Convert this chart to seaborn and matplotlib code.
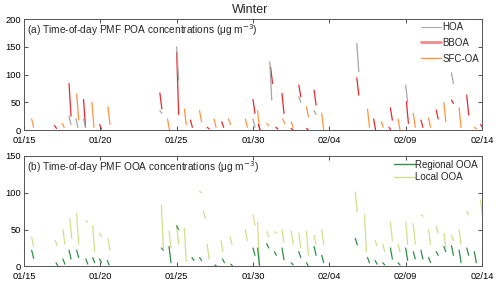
import pandas as pd
import numpy as np
import seaborn as sns
import matplotlib.pyplot as plt
from matplotlib.lines import Line2D

# x axis: days since 01/15 (winter campaign)
tick_days = [0, 5, 10, 15, 20, 25, 30]
tick_labels = ["01/15", "01/20", "01/25", "01/30", "02/04", "02/09", "02/14"]

# each segment: start day, value at start, value at end
hoa_day = [2.95, 3.4, 3.9, 8.9, 10.0, 15.0, 16.1, 18.0, 19.0, 21.8, 25.0, 28.0]
hoa_v0 = [25, 20, 20, 35, 150, 20, 123, 60, 35, 156, 81, 103]
hoa_v1 = [10, 5, 5, 30, 90, 5, 54, 50, 28, 105, 50, 84]

bboa_day = [2.0, 2.95, 3.9, 4.95, 8.9, 10.0, 10.9, 12.0, 12.95, 15.0, 15.35, 16.15,
            16.5, 16.9, 17.5, 18.0, 18.5, 19.0, 21.8, 22.9, 23.9, 24.0, 25.05,
            26.0, 27.0, 28.0, 29.0, 29.9]
bboa_v0 = [8, 84, 55, 10, 67, 140, 18, 5, 15, 55, 10, 114, 5, 66, 3, 81, 3, 72,
           94, 20, 5, 40, 51, 18, 36, 54, 63, 10]
bboa_v1 = [3, 25, 5, 2, 38, 28, 5, 2, 5, 30, 0, 84, 2, 30, 0, 60, 0, 45, 63, 0,
           0, 18, 12, 5, 20, 48, 27, 5]

sfc_day = [0.5, 2.5, 3.45, 4.45, 5.5, 9.4, 10.5, 11.5, 12.45, 13.4, 14.5, 15.3,
           15.9, 16.95, 17.5, 18.5, 19.5, 22.5, 23.4, 24.5, 25.5, 26.5, 27.5,
           28.5, 29.5]
sfc_v0 = [20, 12, 65, 50, 42, 20, 38, 35, 20, 20, 20, 35, 12, 20, 15, 42, 30,
          38, 15, 20, 30, 22, 50, 40, 5]
sfc_v1 = [5, 5, 18, 5, 10, 0, 10, 15, 5, 10, 5, 0, 8, 12, 5, 24, 0, 5, 5, 0,
          5, 5, 15, 5, 2]

reg_day = [0.5, 2.1, 2.55, 2.95, 3.45, 4.05, 4.5, 4.95, 5.45, 9.0, 9.5, 10.0,
           11.0, 11.5, 12.5, 13.0, 13.55, 15.0, 15.3, 15.9, 16.4, 16.9, 17.5,
           18.0, 18.5, 19.0, 19.5, 21.7, 22.5, 23.0, 23.5, 24.0, 24.5, 25.0,
           25.5, 26.0, 26.5, 27.0, 27.5, 28.0, 28.5, 29.0, 29.5]
reg_v0 = [22, 5, 10, 22, 22, 10, 12, 10, 8, 25, 27, 55, 12, 12, 2, 10, 3, 25,
          25, 31, 20, 25, 5, 20, 5, 27, 15, 38, 12, 8, 5, 25, 5, 25, 20, 22,
          12, 20, 27, 28, 22, 25, 20]
reg_v1 = [11, 0, 3, 10, 12, 3, 5, 5, 2, 22, 5, 50, 8, 8, 0, 5, 0, 15, 0, 25,
          15, 9, 2, 12, 0, 15, 5, 29, 5, 3, 2, 10, 2, 8, 10, 10, 5, 15, 20, 15,
          5, 15, 5]

loc_day = [0.5, 2.05, 2.55, 3.0, 3.45, 4.05, 4.5, 4.95, 5.5, 9.0, 9.5, 10.0,
           10.5, 11.5, 11.75, 12.0, 12.9, 13.5, 14.5, 15.0, 15.3, 15.9, 16.4,
           16.9, 17.5, 18.0, 18.5, 19.0, 19.5, 21.7, 22.3, 23.0, 23.5, 24.0,
           24.5, 25.0, 25.5, 26.0, 26.5, 27.0, 27.5, 28.0, 28.5, 29.0, 29.9]
loc_v0 = [40, 35, 50, 65, 72, 62, 55, 45, 38, 83, 48, 55, 52, 102, 75, 30, 35,
          40, 50, 70, 60, 47, 47, 50, 48, 45, 48, 42, 50, 101, 70, 35, 30, 60,
          30, 60, 58, 70, 50, 55, 45, 42, 50, 75, 90]
loc_v1 = [27, 28, 30, 38, 30, 60, 20, 40, 22, 25, 25, 30, 7, 100, 65, 10, 20,
          30, 35, 56, 2, 40, 45, 33, 30, 25, 15, 30, 30, 74, 20, 28, 20, 35, 20,
          30, 30, 68, 30, 45, 25, 35, 30, 70, 70]


def segments(name, days, v0, v1, dt=0.13):
    rows = []
    for i, (d, a, b) in enumerate(zip(days, v0, v1)):
        rows.append((name, f"{name}{i}", d, a))
        rows.append((name, f"{name}{i}", d + dt, b))
    return rows


poa = pd.DataFrame(
    segments("SFC-OA", sfc_day, sfc_v0, sfc_v1)
    + segments("BBOA", bboa_day, bboa_v0, bboa_v1)
    + segments("HOA", hoa_day, hoa_v0, hoa_v1),
    columns=["series", "seg", "day", "conc"])
ooa = pd.DataFrame(
    segments("Local OOA", loc_day, loc_v0, loc_v1)
    + segments("Regional OOA", reg_day, reg_v0, reg_v1),
    columns=["series", "seg", "day", "conc"])

colors = {"HOA": "#a6a6a6", "BBOA": "#e8282e", "SFC-OA": "#ff9440",
          "Regional OOA": "#2f8f46", "Local OOA": "#cfe08a"}

sns.set_style("ticks")
plt.rcParams["font.family"] = ["Liberation Sans", "DejaVu Sans"]

fig = plt.figure(figsize=(5.0, 2.84), dpi=100)
ax1 = fig.add_axes([0.048, 0.542, 0.916, 0.391])
ax2 = fig.add_axes([0.048, 0.062, 0.916, 0.389])

for ax, df, ymax, yt in [(ax1, poa, 200, [0, 50, 100, 150, 200]),
                         (ax2, ooa, 150, [0, 50, 100, 150])]:
    sns.lineplot(data=df, x="day", y="conc", hue="series", units="seg",
                 estimator=None, palette=colors, linewidth=0.9, ax=ax,
                 legend=False, sort=False)
    ax.set_xlim(0, 30)
    ax.set_ylim(0, ymax)
    ax.set_xticks(tick_days)
    ax.set_xticklabels(tick_labels)
    ax.set_yticks(yt)
    ax.set_xlabel("")
    ax.set_ylabel("")
    ax.tick_params(direction="in", top=True, right=True, labelsize=6.7,
                   length=3, width=0.6, pad=2, colors="#333333",
                   labelcolor="black")
    ax.tick_params(axis="x", pad=4)
    for s in ax.spines.values():
        s.set_linewidth(0.7)
        s.set_color("#555555")

ax1.text(0.006, 0.9, "(a) Time-of-day PMF POA concentrations (\u03bcg m$^{-3}$)",
         transform=ax1.transAxes, fontsize=7.3, va="center", ha="left")
ax2.text(0.006, 0.9, "(b) Time-of-day PMF OOA concentrations (\u03bcg m$^{-3}$)",
         transform=ax2.transAxes, fontsize=7.3, va="center", ha="left")

h1 = [Line2D([], [], color=colors["HOA"], lw=0.8),
      Line2D([], [], color="#f08a8e", lw=2.0),
      Line2D([], [], color=colors["SFC-OA"], lw=1.0)]
ax1.legend(h1, ["HOA", "BBOA", "SFC-OA"], loc="upper right", frameon=False,
           fontsize=7, handlelength=2.1, handletextpad=0.1,
           labelspacing=0.6, borderaxespad=0.0, borderpad=0.3)
h2 = [Line2D([], [], color=colors["Regional OOA"], lw=1.0),
      Line2D([], [], color=colors["Local OOA"], lw=1.0)]
ax2.legend(h2, ["Regional OOA", "Local OOA"], loc="upper right", frameon=False,
           fontsize=7, handlelength=2.1, handletextpad=0.1,
           labelspacing=0.25, borderaxespad=0.0, borderpad=0.4)

fig.text(0.5, 0.965, "Winter", ha="center", va="center", fontsize=9)

fig.savefig("out.png", dpi=100)
